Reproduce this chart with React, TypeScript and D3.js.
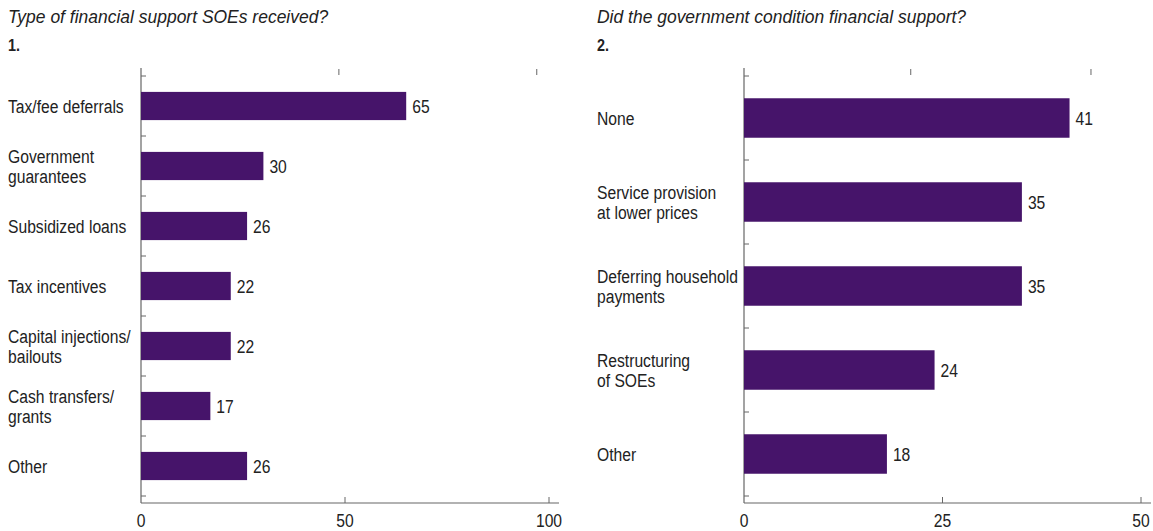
import React from "react";
import * as d3 from "d3";

const leftCategories = [
  ["Tax/fee deferrals"],
  ["Government", "guarantees"],
  ["Subsidized loans"],
  ["Tax incentives"],
  ["Capital injections/", "bailouts"],
  ["Cash transfers/", "grants"],
  ["Other"],
];
const leftValues = [65, 30, 26, 22, 22, 17, 26];
const leftTicks = [0, 50, 100];
const leftTopTicks = [48.5, 97];

const rightCategories = [
  ["None"],
  ["Service provision", "at lower prices"],
  ["Deferring household", "payments"],
  ["Restructuring", "of SOEs"],
  ["Other"],
];
const rightValues = [41, 35, 35, 24, 18];
const rightTicks = [0, 25, 50];
const rightTopTicks = [21, 43.7];

const FONT = "'Liberation Sans', Arial, sans-serif";
const BAR = "#46146a";
const AXIS = "#666";
const TXT = "#222";
const SX = 0.87;

function T(props: {
  x: number;
  y: number;
  size: number;
  sx?: number;
  anchor?: string;
  italic?: boolean;
  bold?: boolean;
  children: React.ReactNode;
}) {
  const sx = props.sx ?? SX;
  return (
    <text
      transform={`translate(${props.x},${props.y}) scale(${sx},1)`}
      fontSize={props.size}
      textAnchor={props.anchor ?? "start"}
      fontStyle={props.italic ? "italic" : "normal"}
      fontWeight={props.bold ? "bold" : "normal"}
      fill={TXT}
    >
      {props.children}
    </text>
  );
}

type PanelProps = {
  title: string;
  num: string;
  textX: number;
  x0: number;
  x1: number;
  axisEnd: number;
  max: number;
  cats: string[][];
  vals: number[];
  ticks: number[];
  topTicks: number[];
};

function Panel(p: PanelProps) {
  const top = 76;
  const bottom = 496;
  const axisY = 503;
  const x = d3.scaleLinear().domain([0, p.max]).range([p.x0, p.x1]);
  const y = d3
    .scaleBand<number>()
    .domain(d3.range(p.cats.length))
    .range([top, bottom])
    .paddingInner(0.53)
    .paddingOuter(0.265);
  const boundaries = d3.range(p.cats.length + 1).map((i) => top + (i * (bottom - top)) / p.cats.length);
  return (
    <g fontFamily={FONT}>
      <T x={p.textX} y={23} size={18.5} sx={0.945} italic>
        {p.title}
      </T>
      <T x={p.textX} y={51} size={16} sx={0.9} bold>
        {p.num}
      </T>
      <line x1={p.x0} x2={p.x0} y1={68} y2={axisY} stroke={AXIS} strokeWidth={1.2} />
      {boundaries.map((b, i) => (
        <line key={i} x1={p.x0} x2={p.x0 + 5} y1={b} y2={b} stroke={AXIS} strokeWidth={1} />
      ))}
      {p.topTicks.map((t, i) => (
        <line key={i} x1={x(t)} x2={x(t)} y1={69} y2={75} stroke={AXIS} strokeWidth={1} />
      ))}
      <line x1={p.x0} x2={p.axisEnd} y1={axisY} y2={axisY} stroke={AXIS} strokeWidth={1.2} />
      {p.ticks.map((t, i) => (
        <g key={i}>
          {i > 0 && <line x1={x(t)} x2={x(t)} y1={axisY - 6} y2={axisY} stroke={AXIS} strokeWidth={1} />}
          <T x={x(t)} y={527} size={18} anchor="middle">
            {t}
          </T>
        </g>
      ))}
      {p.vals.map((v, i) => {
        const by = y(i)!;
        const bh = y.bandwidth();
        const cy = by + bh / 2;
        const lines = p.cats[i];
        return (
          <g key={i}>
            <rect x={x(0)} y={by} width={x(v) - x(0)} height={bh} fill={BAR} />
            <T x={x(v) + 6} y={cy + 6.5} size={18}>
              {v}
            </T>
            {lines.map((l, j) => (
              <T key={j} x={p.textX} y={cy + 6.5 + (j - (lines.length - 1) / 2) * 20} size={18}>
                {l}
              </T>
            ))}
          </g>
        );
      })}
    </g>
  );
}

export default function App() {
  return (
    <svg
      width={1153}
      height={531}
      style={{ position: "absolute", left: 0, top: 0, background: "#fff" }}
    >
      <Panel
        title="Type of financial support SOEs received?"
        num="1."
        textX={8}
        x0={141}
        x1={549}
        axisEnd={559}
        max={100}
        cats={leftCategories}
        vals={leftValues}
        ticks={leftTicks}
        topTicks={leftTopTicks}
      />
      <Panel
        title="Did the government condition financial support?"
        num="2."
        textX={597}
        x0={744}
        x1={1141}
        axisEnd={1151}
        max={50}
        cats={rightCategories}
        vals={rightValues}
        ticks={rightTicks}
        topTicks={rightTopTicks}
      />
    </svg>
  );
}
